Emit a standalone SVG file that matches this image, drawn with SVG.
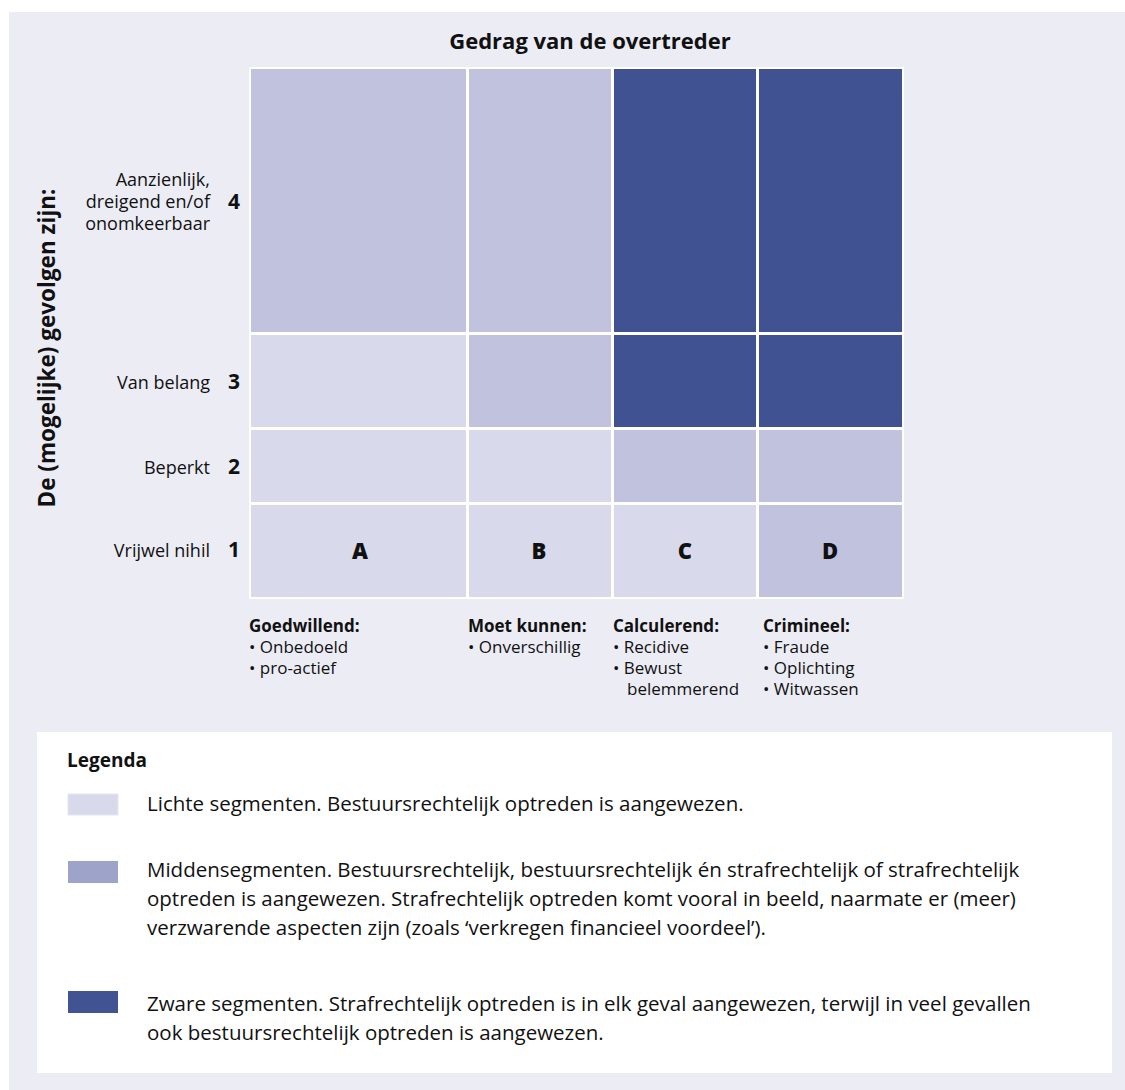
<svg xmlns="http://www.w3.org/2000/svg" width="1125" height="1090" viewBox="0 0 1125 1090">
  <style>
    text { font-family: "Open Sans", "Noto Sans", "DejaVu Sans", sans-serif; fill: #111111; }
    .b { font-weight: bold; }
    .title { font-size: 22px; font-weight: bold; }
    .axis { font-size: 22.5px; font-weight: bold; }
    .lab { font-size: 18px; }
    .num { font-size: 21px; font-weight: bold; }
    .let { font-size: 22px; font-weight: 800; }
    .col { font-size: 17px; }
    .leg { font-size: 20.5px; }
    .legh { font-size: 19px; font-weight: bold; }
    .light { fill: #D8D9EA; }
    .mid { fill: #C1C3DE; }
    .dark { fill: #415293; }
  </style>
  <rect x="9" y="12" width="1116" height="1078" fill="#ECECF5"/>

  <g id="title">
    <text class="title" x="590" y="49" text-anchor="middle">Gedrag van de overtreder</text>
  </g>

  <g id="y-axis-label">
    <text class="axis" transform="translate(55,348) rotate(-90)" text-anchor="middle">De (mogelijke) gevolgen zijn:</text>
  </g>

  <g id="matrix">
    <rect x="249" y="67" width="655" height="532" fill="#FFFFFF"/>
    <g id="row4">
      <rect id="cell-A4" class="mid" x="251" y="69" width="215" height="263"/>
      <rect id="cell-B4" class="mid" x="469" y="69" width="142" height="263"/>
      <rect id="cell-C4" class="dark" x="614" y="69" width="142" height="263"/>
      <rect id="cell-D4" class="dark" x="759" y="69" width="143" height="263"/>
    </g>
    <g id="row3">
      <rect id="cell-A3" class="light" x="251" y="335" width="215" height="92"/>
      <rect id="cell-B3" class="mid" x="469" y="335" width="142" height="92"/>
      <rect id="cell-C3" class="dark" x="614" y="335" width="142" height="92"/>
      <rect id="cell-D3" class="dark" x="759" y="335" width="143" height="92"/>
    </g>
    <g id="row2">
      <rect id="cell-A2" class="light" x="251" y="430" width="215" height="72"/>
      <rect id="cell-B2" class="light" x="469" y="430" width="142" height="72"/>
      <rect id="cell-C2" class="mid" x="614" y="430" width="142" height="72"/>
      <rect id="cell-D2" class="mid" x="759" y="430" width="143" height="72"/>
    </g>
    <g id="row1">
      <g id="cell-A1"><rect class="light" x="251" y="505" width="215" height="92"/><text class="let" x="360" y="559" text-anchor="middle">A</text></g>
      <g id="cell-B1"><rect class="light" x="469" y="505" width="142" height="92"/><text class="let" x="539" y="559" text-anchor="middle">B</text></g>
      <g id="cell-C1"><rect class="light" x="614" y="505" width="142" height="92"/><text class="let" x="685" y="559" text-anchor="middle">C</text></g>
      <g id="cell-D1"><rect class="mid" x="759" y="505" width="143" height="92"/><text class="let" x="830" y="559" text-anchor="middle">D</text></g>
    </g>
  </g>

  <g id="row-labels">
    <g id="label-4">
      <text class="lab" x="210" y="186" text-anchor="end">Aanzienlijk,</text>
      <text class="lab" x="210" y="208" text-anchor="end">dreigend en/of</text>
      <text class="lab" x="210" y="230" text-anchor="end">onomkeerbaar</text>
      <text class="num" x="234" y="209" text-anchor="middle">4</text>
    </g>
    <g id="label-3">
      <text class="lab" x="210" y="389" text-anchor="end">Van belang</text>
      <text class="num" x="234" y="389" text-anchor="middle">3</text>
    </g>
    <g id="label-2">
      <text class="lab" x="210" y="474" text-anchor="end">Beperkt</text>
      <text class="num" x="234" y="474" text-anchor="middle">2</text>
    </g>
    <g id="label-1">
      <text class="lab" x="210" y="557" text-anchor="end">Vrijwel nihil</text>
      <text class="num" x="234" y="557" text-anchor="middle">1</text>
    </g>
  </g>

  <g id="column-labels">
    <g id="col-A">
      <text class="col b" x="249" y="632">Goedwillend:</text>
      <text class="col" x="249" y="653">• Onbedoeld</text>
      <text class="col" x="249" y="674">• pro-actief</text>
    </g>
    <g id="col-B">
      <text class="col b" x="468" y="632">Moet kunnen:</text>
      <text class="col" x="468" y="653">• Onverschillig</text>
    </g>
    <g id="col-C">
      <text class="col b" x="613" y="632">Calculerend:</text>
      <text class="col" x="613" y="653">• Recidive</text>
      <text class="col" x="613" y="674">• Bewust</text>
      <text class="col" x="627" y="695">belemmerend</text>
    </g>
    <g id="col-D">
      <text class="col b" x="763" y="632">Crimineel:</text>
      <text class="col" x="763" y="653">• Fraude</text>
      <text class="col" x="763" y="674">• Oplichting</text>
      <text class="col" x="763" y="695">• Witwassen</text>
    </g>
  </g>

  <g id="legend">
    <rect x="37" y="732" width="1075" height="341" fill="#FFFFFF"/>
    <text class="legh" x="67" y="767">Legenda</text>
    <g id="legend-light">
      <rect x="68" y="794" width="50" height="21" fill="#D8D9EA" stroke="#E6E6F1" stroke-width="1"/>
      <text class="leg" x="147" y="811">Lichte segmenten. Bestuursrechtelijk optreden is aangewezen.</text>
    </g>
    <g id="legend-mid">
      <rect x="68" y="861" width="50" height="22" fill="#9EA3CA"/>
      <text class="leg" x="147" y="877">Middensegmenten. Bestuursrechtelijk, bestuursrechtelijk én strafrechtelijk of strafrechtelijk</text>
      <text class="leg" x="147" y="906">optreden is aangewezen. Strafrechtelijk optreden komt vooral in beeld, naarmate er (meer)</text>
      <text class="leg" x="147" y="935">verzwarende aspecten zijn (zoals ‘verkregen financieel voordeel’).</text>
    </g>
    <g id="legend-dark">
      <rect x="68" y="991" width="50" height="22" fill="#425394"/>
      <text class="leg" x="147" y="1011">Zware segmenten. Strafrechtelijk optreden is in elk geval aangewezen, terwijl in veel gevallen</text>
      <text class="leg" x="147" y="1040">ook bestuursrechtelijk optreden is aangewezen.</text>
    </g>
  </g>
</svg>
